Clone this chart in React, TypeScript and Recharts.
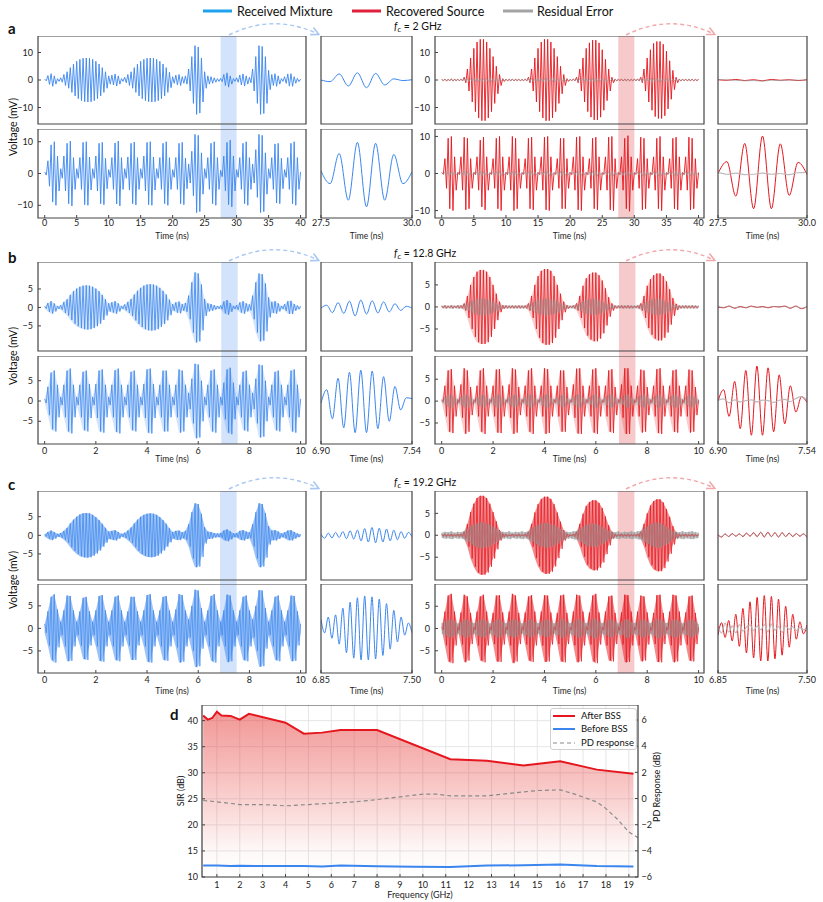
import React from 'react';
import { ComposedChart, Line, Area, XAxis, YAxis, ReferenceArea, CartesianGrid } from 'recharts';

const FONT = 'Lato, "Open Sans", "DejaVu Sans", sans-serif';
const BLUE = '#3b86ee';
const RED = '#e5161d';
const GRAY = '#9a9a9a';
const HL_BLUE = '#d3e3fb';
const HL_RED = '#f6c9cb';

// ---------------- Panel a (fc = 2 GHz), one amplitude per carrier cycle (0.5 ns), 0..40 ns
const aStep = 0.5;
const aBlueTop = [
  0.3, 1.6, 2.3, 1.5, 0.5, 0.8, 2.0, 3.0, 4.5, 5.8,
  6.8, 7.5, 7.9, 8.0, 7.9, 7.5, 6.8, 5.8, 4.5, 3.0,
  1.5, 1.8, 2.2, 1.5, 0.5, 1.0, 2.0, 3.0, 4.5, 5.8,
  6.8, 7.5, 7.9, 8.0, 7.9, 7.5, 6.8, 5.8, 4.5, 2.8,
  1.2, 1.8, 2.0, 1.2, 1.5, 4.0, 8.5, 12.5, 12.0, 8.0,
  3.0, 1.5, 1.2, 0.8, 0.5, 0.6, 2.0, 2.6, 1.5, 0.5,
  0.8, 1.8, 2.2, 1.5, 1.0, 4.0, 8.5, 12.5, 12.2, 8.5,
  3.5, 2.0, 2.3, 1.5, 0.5, 1.2, 2.2, 2.3, 1.2, 0.6,
  0.3,
];
const aBlueBot = [
  0.5, 4.0, 9.0, 10.0, 5.5, 1.5, 5.5, 9.5, 10.2, 5.0,
  1.5, 5.0, 9.8, 10.0, 5.2, 1.5, 5.5, 9.5, 9.8, 4.8,
  1.2, 5.0, 9.6, 10.2, 5.0, 1.5, 5.2, 9.5, 9.9, 5.0,
  1.5, 5.5, 9.8, 10.0, 5.2, 1.5, 5.0, 9.5, 10.0, 5.0,
  1.2, 5.0, 9.5, 9.8, 4.8, 3.0, 7.0, 12.3, 12.0, 6.5,
  1.5, 5.0, 9.5, 10.0, 5.0, 1.0, 5.5, 9.8, 10.5, 5.5,
  1.2, 5.0, 9.5, 10.0, 5.0, 3.0, 7.5, 12.3, 12.0, 6.5,
  1.5, 5.0, 9.3, 9.5, 4.8, 1.2, 5.0, 9.5, 10.0, 5.0,
  0.5,
];
const aRedTop = [
  0.2, 0.3, 0.2, 0.3, 0.2, 0.3, 0.3, 1.0, 4.0, 8.0,
  11.5, 13.8, 14.8, 14.8, 13.8, 11.5, 8.5, 5.0, 2.0, 0.5,
  0.3, 0.2, 0.3, 0.2, 0.3, 0.2, 0.3, 1.0, 4.0, 8.0,
  11.5, 13.8, 14.8, 14.8, 13.8, 11.5, 8.5, 5.0, 2.0, 0.5,
  0.2, 0.3, 1.0, 4.0, 8.0, 11.5, 13.5, 14.5, 14.5, 13.5,
  11.0, 7.5, 4.0, 1.0, 0.3, 0.2, 0.3, 0.2, 0.3, 0.2,
  0.2, 0.3, 1.0, 4.0, 8.0, 11.0, 13.3, 14.0, 14.0, 13.0,
  10.5, 7.0, 3.5, 1.0, 0.3, 0.2, 0.3, 0.2, 0.3, 0.2,
  0.2,
];
const aRedBot = [
  0.2, 4.0, 9.5, 10.0, 4.5, 0.3, 4.5, 9.8, 9.5, 4.0,
  0.3, 4.5, 9.0, 9.8, 4.5, 0.2, 4.0, 9.5, 10.0, 4.5,
  0.3, 4.5, 10.0, 9.5, 4.0, 0.2, 4.0, 9.5, 9.8, 4.5,
  0.3, 4.5, 9.8, 10.0, 4.5, 0.2, 4.0, 9.5, 9.5, 4.0,
  0.3, 4.5, 9.8, 10.0, 4.5, 0.3, 4.0, 9.5, 9.8, 4.5,
  0.2, 4.5, 9.8, 10.0, 4.0, 0.3, 4.5, 9.5, 10.2, 4.5,
  0.2, 4.0, 9.8, 9.5, 4.0, 0.3, 4.5, 9.5, 10.0, 4.5,
  0.2, 4.0, 9.5, 9.8, 4.5, 0.3, 4.5, 9.8, 9.5, 4.0,
  0.2,
];
const aGrayTop = [
  0.3, 0.4, 0.3, 0.5, 0.4, 0.3, 0.4, 0.5, 0.6, 0.5,
  0.6, 0.7, 0.6, 0.5, 0.6, 0.7, 0.5, 0.6, 0.4, 0.3,
  0.3, 0.4, 0.3, 0.4, 0.3, 0.3, 0.4, 0.5, 0.6, 0.5,
  0.6, 0.7, 0.6, 0.6, 0.7, 0.6, 0.5, 0.5, 0.4, 0.3,
  0.3, 0.4, 0.5, 0.5, 0.6, 0.7, 0.6, 0.7, 0.6, 0.5,
  0.5, 0.4, 0.3, 0.3, 0.4, 0.3, 0.3, 0.4, 0.3, 0.4,
  0.3, 0.4, 0.5, 0.6, 0.6, 0.7, 0.6, 0.6, 0.7, 0.5,
  0.5, 0.4, 0.3, 0.3, 0.4, 0.3, 0.3, 0.4, 0.3, 0.3,
  0.3,
];
const aGrayBot = [
  0.3, 0.4, 0.5, 0.5, 0.4, 0.3, 0.4, 0.6, 0.5, 0.3,
  0.3, 0.5, 0.6, 0.5, 0.4, 0.3, 0.4, 0.5, 0.6, 0.4,
  0.3, 0.5, 0.6, 0.5, 0.3, 0.3, 0.4, 0.6, 0.5, 0.4,
  0.3, 0.4, 0.5, 0.6, 0.4, 0.3, 0.5, 0.6, 0.5, 0.3,
  0.3, 0.4, 0.6, 0.5, 0.4, 0.4, 0.5, 0.7, 0.6, 0.4,
  0.3, 0.4, 0.5, 0.6, 0.4, 0.3, 0.5, 0.6, 0.5, 0.3,
  0.3, 0.4, 0.6, 0.5, 0.4, 0.4, 0.5, 0.7, 0.6, 0.4,
  0.3, 0.4, 0.5, 0.6, 0.4, 0.3, 0.5, 0.6, 0.5, 0.3,
  0.3,
];
// zoom 27.5 .. 30.0 ns, extrema every 0.25 ns
const aZoomStart = 27.5;
const aZoomStep = 0.25;
const aBlueTopZoom = [0.0, -0.6, 2.2, -2.2, 2.6, -2.8, 2.4, -1.8, 0.4, -0.2, 0.1];
const aBlueBotZoom = [0.8, -3.2, 6.3, -8.4, 9.8, -10.5, 9.5, -8.4, 6.0, -3.2, 0.5];
const aRedTopZoom = [0.1, -0.1, 0.2, -0.2, 0.1, -0.3, 0.2, -0.1, 0.1, -0.2, 0.1];
const aGrayTopZoom = [0.2, 0.0, -0.1, -0.3, -0.2, -0.4, -0.1, -0.2, 0.0, -0.1, 0.1];
const aRedBotZoom = [0.0, 3.2, -6.1, 8.1, -9.5, 10.1, -9.5, 8.0, -5.9, 3.0, -0.3];
const aGrayBotZoom = [0.3, -0.2, 0.1, -0.3, -0.2, 0.1, -0.2, 0.0, -0.3, 0.2, 0.3];

// ---------------- Panel b (fc = 12.8 GHz), 0..10 ns, 0.125 ns per drawn cycle
const bStep = 0.125;
const bBlueTop = [
  0.3, 1.2, 1.7, 1.1, 0.4, 0.6, 1.5, 2.2, 3.4, 4.4,
  5.1, 5.6, 5.9, 6.0, 5.9, 5.6, 5.1, 4.4, 3.4, 2.2,
  1.1, 1.4, 1.7, 1.1, 0.4, 0.8, 1.5, 2.3, 3.5, 4.5,
  5.3, 5.9, 6.2, 6.3, 6.2, 5.9, 5.3, 4.5, 3.5, 2.1,
  0.9, 1.4, 1.6, 0.9, 1.2, 3.2, 6.8, 9.5, 9.2, 6.2,
  2.3, 1.1, 0.9, 0.6, 0.4, 0.5, 1.6, 2.0, 1.2, 0.4,
  0.6, 1.4, 1.7, 1.1, 0.8, 3.2, 6.8, 9.2, 9.0, 6.5,
  2.7, 1.5, 1.7, 1.1, 0.4, 0.9, 1.7, 1.8, 0.9, 0.5,
  0.3,
];
const bBlueBot = [
  0.5, 3.5, 7.0, 7.5, 4.0, 1.0, 4.0, 7.5, 8.0, 4.0,
  1.0, 4.0, 7.2, 7.5, 4.2, 1.0, 4.2, 7.5, 7.8, 4.0,
  1.0, 4.0, 7.6, 8.0, 4.0, 1.0, 4.0, 7.2, 7.5, 4.0,
  1.0, 4.2, 7.8, 8.0, 4.2, 1.0, 4.0, 7.5, 7.5, 4.0,
  1.0, 4.0, 7.8, 7.5, 4.0, 2.0, 5.5, 9.2, 9.0, 5.0,
  1.0, 4.0, 7.5, 7.8, 4.0, 1.0, 4.5, 7.8, 8.2, 4.5,
  1.0, 4.0, 7.2, 7.5, 4.0, 2.0, 5.5, 9.0, 8.8, 5.0,
  1.0, 4.0, 7.2, 7.5, 4.0, 1.0, 4.0, 7.5, 7.8, 4.0,
  0.5,
];
const bRedTop = [
  0.2, 0.3, 0.2, 0.3, 0.2, 0.3, 0.3, 0.8, 2.5, 5.0,
  6.8, 8.0, 8.4, 8.4, 8.0, 6.8, 5.0, 3.0, 1.2, 0.4,
  0.3, 0.2, 0.3, 0.2, 0.3, 0.2, 0.3, 0.8, 2.5, 5.0,
  7.0, 8.2, 8.6, 8.6, 8.2, 7.0, 5.0, 3.0, 1.2, 0.4,
  0.2, 0.3, 0.8, 2.5, 4.8, 6.5, 7.4, 7.8, 7.8, 7.2,
  6.0, 4.2, 2.2, 0.8, 0.3, 0.2, 0.3, 0.2, 0.3, 0.2,
  0.2, 0.3, 0.8, 2.5, 4.8, 6.3, 7.2, 7.6, 7.6, 7.0,
  5.8, 4.0, 2.0, 0.7, 0.3, 0.2, 0.3, 0.2, 0.3, 0.2,
  0.2,
];
const bRedBot = [
  0.2, 3.5, 7.0, 7.3, 3.5, 0.3, 3.8, 7.5, 7.0, 3.2,
  0.2, 3.5, 7.0, 7.5, 3.5, 0.3, 3.5, 7.2, 7.3, 3.5,
  0.2, 3.8, 7.5, 7.2, 3.2, 0.3, 3.5, 7.0, 7.5, 3.5,
  0.2, 3.5, 7.5, 7.3, 3.5, 0.3, 3.5, 7.0, 7.0, 3.2,
  0.2, 3.8, 7.4, 7.5, 3.5, 0.3, 3.5, 7.2, 7.5, 3.5,
  0.2, 3.5, 7.0, 7.3, 3.2, 0.3, 3.8, 7.5, 7.5, 3.5,
  0.2, 3.5, 7.2, 7.0, 3.2, 0.3, 3.5, 7.3, 7.5, 3.5,
  0.2, 3.5, 7.0, 7.2, 3.5, 0.3, 3.5, 7.2, 7.0, 3.2,
  0.2,
];
const bGrayTop = [
  0.3, 0.4, 0.3, 0.4, 0.3, 0.4, 0.3, 0.5, 0.9, 1.3,
  1.6, 1.8, 1.9, 1.9, 1.8, 1.6, 1.3, 0.9, 0.5, 0.4,
  0.3, 0.4, 0.3, 0.4, 0.3, 0.4, 0.3, 0.5, 0.9, 1.3,
  1.6, 1.8, 1.9, 1.9, 1.8, 1.6, 1.3, 0.9, 0.5, 0.4,
  0.3, 0.4, 0.5, 0.9, 1.3, 1.6, 1.8, 1.9, 1.8, 1.6,
  1.3, 0.9, 0.6, 0.4, 0.3, 0.4, 0.3, 0.4, 0.3, 0.4,
  0.3, 0.4, 0.5, 0.9, 1.3, 1.6, 1.8, 1.9, 1.8, 1.6,
  1.3, 0.9, 0.6, 0.4, 0.3, 0.4, 0.3, 0.4, 0.3, 0.4,
  0.3,
];
const bGrayBot = [
  0.4, 0.9, 1.4, 1.5, 0.9, 0.5, 1.0, 1.5, 1.4, 0.8,
  0.4, 0.9, 1.3, 1.5, 0.9, 0.5, 1.0, 1.5, 1.5, 0.8,
  0.4, 0.9, 1.4, 1.4, 0.9, 0.5, 0.9, 1.5, 1.5, 0.8,
  0.4, 1.0, 1.4, 1.5, 0.9, 0.5, 0.9, 1.3, 1.4, 0.8,
  0.4, 1.0, 1.5, 1.5, 0.9, 0.5, 0.9, 1.4, 1.5, 0.8,
  0.4, 1.0, 1.5, 1.4, 0.9, 0.5, 0.9, 1.4, 1.5, 0.8,
  0.4, 1.0, 1.3, 1.5, 0.9, 0.5, 0.9, 1.5, 1.4, 0.8,
  0.4, 1.0, 1.4, 1.5, 0.9, 0.5, 0.9, 1.4, 1.4, 0.8,
  0.4,
];
const bZoomStart = 6.9;
const bZoomStep = 0.04;
const bBlueTopZoom = [-0.2, 0.6, -1.4, 1.3, -1.6, 1.7, -2.3, 2.0, -1.8, 1.8, -1.5, 1.5, -1.2, 1.0, -0.8, 0.3, -0.2];
const bBlueBotZoom = [-0.5, 2.8, -4.4, 5.6, -6.6, 7.1, -7.8, 7.6, -7.8, 7.4, -6.8, 6.0, -5.0, 3.6, -2.2, 0.8, 0.6];
const bRedTopZoom = [0.0, -0.2, 0.2, -0.3, 0.1, -0.2, 0.2, -0.1, 0.1, -0.2, 0.1, 0.0, 0.2, -0.3, 0.2, -0.4, 0.1];
const bGrayTopZoom = [0.1, -0.1, 0.1, -0.2, 0.0, -0.1, 0.1, -0.1, 0.0, -0.1, 0.1, 0.0, 0.1, -0.2, 0.1, -0.3, 0.0];
const bRedBotZoom = [0.0, 2.6, -3.5, 4.5, -6.3, 7.0, -7.8, 8.0, -7.8, 7.6, -7.0, 6.0, -5.2, 3.5, -2.5, 1.0, -0.3];
const bGrayBotZoom = [0.2, 0.5, -0.4, 0.3, -0.2, 0.1, 0.3, -0.2, 0.2, 0.1, -0.3, 0.2, 0.4, -0.1, 0.6, 1.0, 0.2];

// ---------------- Panel c (fc = 19.2 GHz)
const cStep = 0.125;
const cBlueTop = [
  0.3, 0.9, 1.3, 0.9, 0.4, 0.6, 1.2, 2.0, 3.2, 4.2,
  5.0, 5.6, 5.9, 6.0, 5.9, 5.5, 4.9, 4.1, 3.1, 2.0,
  1.0, 1.2, 1.4, 0.9, 0.4, 0.7, 1.3, 2.1, 3.2, 4.2,
  5.0, 5.5, 5.8, 5.9, 5.8, 5.5, 4.9, 4.1, 3.1, 1.9,
  0.9, 1.2, 1.3, 0.8, 1.2, 3.0, 6.2, 8.6, 8.4, 5.8,
  2.2, 1.0, 0.9, 0.6, 0.5, 0.6, 1.3, 1.6, 1.1, 0.5,
  0.6, 1.2, 1.4, 1.0, 0.8, 3.0, 6.2, 8.6, 8.4, 6.0,
  2.5, 1.3, 1.4, 1.0, 0.5, 0.8, 1.3, 1.4, 0.9, 0.5,
  0.3,
];
const cBlueBot = [
  1.0, 3.8, 7.0, 7.6, 4.2, 1.5, 4.0, 7.3, 7.2, 4.0,
  1.5, 3.8, 6.8, 7.0, 3.8, 1.5, 4.0, 7.2, 7.4, 4.0,
  1.5, 4.0, 7.0, 7.3, 4.0, 1.5, 3.8, 7.0, 7.0, 3.8,
  1.5, 4.0, 7.4, 7.6, 4.0, 1.5, 4.0, 7.0, 7.2, 4.0,
  1.5, 4.2, 7.6, 7.4, 4.0, 2.0, 5.0, 8.6, 8.4, 4.5,
  1.5, 4.0, 7.2, 7.6, 4.0, 1.5, 4.0, 7.5, 7.3, 4.0,
  1.5, 4.0, 7.0, 7.3, 4.0, 2.0, 5.0, 8.5, 8.4, 4.5,
  1.5, 4.0, 7.0, 7.3, 4.0, 1.5, 4.0, 7.3, 7.2, 3.8,
  1.0,
];
const cRedTop = [
  0.2, 0.3, 0.2, 0.3, 0.2, 0.3, 0.3, 0.8, 2.6, 5.3,
  7.2, 8.5, 9.0, 9.0, 8.5, 7.2, 5.3, 3.2, 1.2, 0.4,
  0.3, 0.2, 0.3, 0.2, 0.3, 0.2, 0.3, 0.8, 2.6, 5.2,
  7.1, 8.3, 8.8, 8.8, 8.3, 7.1, 5.2, 3.1, 1.2, 0.4,
  0.2, 0.3, 0.8, 2.6, 4.9, 6.7, 7.6, 8.0, 8.0, 7.4,
  6.2, 4.3, 2.3, 0.8, 0.3, 0.2, 0.3, 0.2, 0.3, 0.2,
  0.2, 0.3, 0.8, 2.6, 5.0, 6.8, 7.8, 8.2, 8.2, 7.5,
  6.0, 4.2, 2.1, 0.7, 0.3, 0.2, 0.3, 0.2, 0.3, 0.2,
  0.2,
];
const cRedBot = [
  0.3, 3.8, 7.4, 7.8, 3.8, 0.4, 3.6, 7.6, 7.2, 3.5,
  0.3, 3.8, 7.2, 7.6, 3.8, 0.4, 3.5, 7.4, 7.5, 3.6,
  0.3, 3.8, 7.8, 7.4, 3.5, 0.4, 3.6, 7.2, 7.5, 3.8,
  0.3, 3.8, 7.5, 7.4, 3.6, 0.4, 3.5, 7.4, 7.6, 3.5,
  0.3, 3.8, 7.6, 7.4, 3.8, 0.4, 3.6, 7.4, 7.8, 3.6,
  0.3, 3.8, 7.2, 7.4, 3.5, 0.4, 3.6, 7.6, 7.5, 3.8,
  0.3, 3.8, 7.4, 7.2, 3.6, 0.4, 3.5, 7.5, 7.6, 3.5,
  0.3, 3.8, 7.6, 7.4, 3.8, 0.4, 3.6, 7.2, 7.4, 3.5,
  0.3,
];
const cGrayTop = [
  0.6, 0.8, 0.7, 0.9, 0.6, 0.8, 0.7, 1.0, 1.5, 2.1,
  2.5, 2.8, 2.9, 2.9, 2.7, 2.4, 2.0, 1.5, 1.0, 0.8,
  0.7, 0.9, 0.6, 0.8, 0.7, 0.9, 0.7, 1.0, 1.5, 2.0,
  2.4, 2.7, 2.8, 2.8, 2.6, 2.3, 1.9, 1.4, 1.0, 0.8,
  0.7, 0.9, 1.0, 1.5, 2.0, 2.4, 2.6, 2.7, 2.6, 2.3,
  1.9, 1.4, 1.0, 0.8, 0.7, 0.9, 0.6, 0.8, 0.7, 0.9,
  0.7, 0.9, 1.0, 1.5, 2.0, 2.5, 2.8, 2.9, 2.8, 2.4,
  2.0, 1.4, 1.0, 0.8, 0.7, 0.9, 0.7, 0.8, 0.9, 0.7,
  0.6,
];
const cGrayBot = [
  1.2, 1.6, 2.0, 2.0, 1.6, 1.1, 1.5, 2.1, 1.9, 1.5,
  1.2, 1.6, 1.9, 2.1, 1.6, 1.1, 1.5, 2.0, 2.0, 1.5,
  1.2, 1.7, 2.1, 1.9, 1.6, 1.1, 1.5, 2.0, 2.0, 1.5,
  1.2, 1.6, 1.9, 2.0, 1.6, 1.1, 1.5, 2.1, 2.0, 1.5,
  1.2, 1.6, 2.0, 2.1, 1.6, 1.2, 1.7, 2.2, 2.1, 1.6,
  1.2, 1.6, 2.0, 1.9, 1.6, 1.1, 1.5, 2.0, 2.1, 1.5,
  1.2, 1.6, 1.9, 2.0, 1.6, 1.2, 1.7, 2.2, 2.0, 1.6,
  1.2, 1.6, 2.0, 2.0, 1.6, 1.1, 1.5, 1.9, 2.0, 1.5,
  1.0,
];
const cZoomStart = 6.85;
const cZoomStep = 0.026;
const cBlueTopZoom = [0.3, -0.8, 0.6, -0.7, 0.8, -0.6, 1.0, -0.9, 1.2, -1.0, 1.4, -1.5, 1.8, -1.8, 2.1, -2.0, 1.9, -1.8, 1.7, -1.5, 1.4, -1.2, 1.0, -0.8, 0.8, -0.4];
const cBlueBotZoom = [2.0, -1.0, 2.5, -2.2, 3.0, -3.5, 4.5, -5.4, 5.8, -6.6, 6.8, -7.0, 7.2, -7.0, 7.0, -6.8, 6.5, -6.0, 5.5, -4.6, 4.0, -3.0, 2.5, -1.5, 1.2, -1.0];
const cRedTopZoom = [0.1, -0.4, 0.3, -0.3, 0.4, -0.2, 0.3, -0.3, 0.5, -0.2, 0.6, -0.3, 0.7, -0.4, 0.7, -0.3, 0.6, -0.4, 0.6, -0.3, 0.5, -0.3, 0.4, -0.2, 0.3, -0.5];
const cGrayTopZoom = [0.1, -0.3, 0.3, -0.3, 0.3, -0.2, 0.3, -0.2, 0.4, -0.2, 0.5, -0.3, 0.6, -0.3, 0.6, -0.3, 0.5, -0.3, 0.5, -0.3, 0.4, -0.2, 0.4, -0.2, 0.3, -0.4];
const cRedBotZoom = [-1.5, 1.3, -2.0, 1.8, -2.8, 3.2, -4.0, 4.5, -5.5, 6.0, -6.6, 7.0, -7.3, 7.4, -7.3, 7.2, -6.8, 6.6, -6.0, 5.0, -4.2, 3.2, -2.4, 1.5, -1.2, 0.8];
const cGrayBotZoom = [0.5, -1.0, 1.2, -0.8, 0.6, -1.0, 0.9, -0.6, 0.3, 0.8, -0.5, 0.6, -0.3, 0.9, -0.7, 1.0, -0.4, 0.5, -0.9, 0.6, -0.2, 0.4, -0.5, 0.2, -0.3, 0.1];

// ---------------- Panel d
const dFreq = [0.4, 0.6, 0.8, 1.0, 1.2, 1.6, 2.0, 2.4, 4.0, 4.8, 5.6, 6.4, 8.0, 11.2, 12.8, 14.4, 16.0, 17.6, 19.2];
const dAfter = [41.0, 40.2, 40.5, 41.7, 41.0, 40.9, 40.2, 41.3, 39.6, 37.5, 37.7, 38.2, 38.2, 32.6, 32.3, 31.4, 32.2, 30.6, 29.8];
const dBeforeFreq = [0.4, 1.0, 1.6, 2.0, 3.2, 4.0, 4.8, 5.6, 6.4, 8.0, 9.6, 11.2, 12.8, 14.4, 16.0, 17.6, 19.2];
const dBefore = [12.2, 12.2, 12.1, 12.15, 12.1, 12.1, 12.1, 12.0, 12.2, 12.05, 11.95, 11.9, 12.2, 12.25, 12.4, 12.1, 12.0];
const dPdFreq = [0.4, 1.0, 2.0, 3.0, 4.0, 5.0, 6.0, 7.0, 8.0, 9.0, 10.0, 10.6, 11.2, 12.8, 14.0, 15.0, 16.0, 16.6, 17.6, 18.0, 18.5, 19.0, 19.4];
const dPd = [-0.15, -0.25, -0.46, -0.46, -0.56, -0.46, -0.36, -0.26, -0.08, 0.13, 0.33, 0.33, 0.2, 0.2, 0.43, 0.61, 0.66, 0.36, -0.26, -0.77, -1.58, -2.55, -3.0];
const dXTicks = [1, 2, 3, 4, 5, 6, 7, 8, 9, 10, 11, 12, 13, 14, 15, 16, 17, 18, 19];
const dLeftTicks = [10, 15, 20, 25, 30, 35, 40];
const dRightTicks = [-6, -4, -2, 0, 2, 4, 6];

// ---------------- helpers
type Pt = { t: number; v: number };
function zigzag(env: number[], dt: number): Pt[] {
  const out: Pt[] = [];
  env.forEach((e, i) => {
    out.push({ t: i * dt, v: e });
    if (i < env.length - 1) out.push({ t: i * dt + dt / 2, v: -e });
  });
  return out;
}
function bandOf(env: number[], dt: number) {
  return env.map((e, i) => ({ t: i * dt, r: [-e, e] }));
}
function seq(vals: number[], t0: number, dt: number): Pt[] {
  return vals.map((v, i) => ({ t: t0 + i * dt, v }));
}
const fmtMinus = (v: number) => (v < 0 ? '\u2212' + Math.abs(v) : String(v));

interface Series { data: any[]; color: string; width: number; opacity?: number; curve?: 'linear' | 'monotone' }
interface BandS { data: any[]; color: string; opacity: number }
interface PanelProps {
  left: number; top: number; w: number; h: number; gapBelow: number; bottomRow: boolean;
  xDomain: [number, number]; xTicks: number[]; xFmt?: (v: number) => string;
  yDomain: [number, number]; yTicks: number[]; showY: boolean;
  tickMargin: number; timeOffset: number;
  lines: Series[]; bands: BandS[];
  hl?: { x1: number; x2: number; color: string };
}

const tickStyle = { fontSize: 9, fill: '#222', fontFamily: FONT };

function Panel(p: PanelProps) {
  const LW = 34;
  const RM = 14;
  const BH = p.bottomRow ? 26 : p.gapBelow;
  const W = p.w + LW + RM;
  const H = p.h + BH;
  const ext = p.bottomRow ? 0 : (p.gapBelow * (p.yDomain[1] - p.yDomain[0])) / p.h;
  return (
    <div style={{ position: 'absolute', left: p.left - LW, top: p.top, width: W, height: H }}>
      <ComposedChart width={W} height={H} margin={{ top: 0, right: RM, bottom: 0, left: 0 }}>
        <XAxis
          type="number" dataKey="t" domain={p.xDomain} ticks={p.xTicks} allowDataOverflow interval={0}
          height={BH} axisLine={false} tickSize={-3} tickMargin={p.tickMargin} stroke="#444"
          tick={p.bottomRow ? tickStyle : false} tickFormatter={p.xFmt}
          label={p.bottomRow ? { value: 'Time (ns)', position: 'insideBottom', offset: p.timeOffset, fontSize: 8.5, fill: '#222', fontFamily: FONT } : undefined}
        />
        <YAxis
          type="number" domain={p.yDomain} ticks={p.yTicks} allowDataOverflow interval={0}
          width={LW} axisLine={false} tickSize={-3} tickMargin={8} stroke="#444"
          tick={p.showY ? tickStyle : false} tickFormatter={fmtMinus}
        />
        {p.hl && (
          <ReferenceArea
            x1={p.hl.x1} x2={p.hl.x2} y1={p.yDomain[0] - ext} y2={p.yDomain[1]}
            fill={p.hl.color} fillOpacity={1} stroke="none" ifOverflow="visible" zIndex={-50}
          />
        )}
        {p.bands.map((b, i) => (
          <Area key={'b' + i} data={b.data} dataKey="r" type="linear" stroke="none" fill={b.color}
            fillOpacity={b.opacity} isAnimationActive={false} dot={false} activeDot={false} />
        ))}
        {p.lines.map((l, i) => (
          <Line key={'l' + i} data={l.data} dataKey="v" type={l.curve || 'linear'} stroke={l.color}
            strokeWidth={l.width} strokeOpacity={l.opacity ?? 1} dot={false} activeDot={false}
            isAnimationActive={false} />
        ))}
        <ReferenceArea x1={p.xDomain[0]} x2={p.xDomain[1]} y1={p.yDomain[0]} y2={p.yDomain[1]}
          fill="none" stroke="#444" strokeWidth={1.2} ifOverflow="visible" zIndex={700} />
      </ComposedChart>
    </div>
  );
}

interface RowDef {
  topY: number; topH: number; botY: number; botH: number;
  step: number; wideDomain: [number, number]; wideTicks: number[];
  zoomStart: number; zoomStep: number; zoomDomain: [number, number]; zoomFmt: (v: number) => string;
  yTicks: number[];
  yBlueTop: [number, number]; yBlueBot: [number, number]; yRedTop: [number, number]; yRedBot: [number, number];
  blueTop: number[]; blueBot: number[]; redTop: number[]; redBot: number[]; grayTop: number[]; grayBot: number[];
  zBlueTop: number[]; zBlueBot: number[]; zRedTop: number[]; zGrayTop: number[]; zRedBot: number[]; zGrayBot: number[];
  bandOp: number; grayBandOp: number; lw: number;
  tickMargin: number; timeOffset: number;
}

const COLS = { blueWide: [38, 268], blueZoom: [321, 91], redWide: [435, 269], redZoom: [718, 89] };

function Row({ r }: { r: RowDef }) {
  const gapTop = r.botY - (r.topY + r.topH);
  const hlB = { x1: r.zoomDomain[0], x2: r.zoomDomain[1], color: HL_BLUE };
  const hlR = { x1: r.zoomDomain[0], x2: r.zoomDomain[1], color: HL_RED };
  const common = { tickMargin: r.tickMargin, timeOffset: r.timeOffset };
  const wide = (col: number[], top: boolean, yd: [number, number], lines: Series[], bands: BandS[], hl: any) => (
    <Panel left={col[0]} w={col[1]} top={top ? r.topY : r.botY} h={top ? r.topH : r.botH} gapBelow={gapTop}
      bottomRow={!top} xDomain={r.wideDomain} xTicks={r.wideTicks} yDomain={yd} yTicks={r.yTicks} showY
      lines={lines} bands={bands} hl={hl} {...common} />
  );
  const zoom = (col: number[], top: boolean, yd: [number, number], lines: Series[]) => (
    <Panel left={col[0]} w={col[1]} top={top ? r.topY : r.botY} h={top ? r.topH : r.botH} gapBelow={gapTop}
      bottomRow={!top} xDomain={r.zoomDomain} xTicks={r.zoomDomain} xFmt={r.zoomFmt} yDomain={yd} yTicks={r.yTicks}
      showY={false} lines={lines} bands={[]} {...common} />
  );
  const zz = (env: number[]) => zigzag(env, r.step);
  const bd = (env: number[], c: string, op: number) => (op > 0 ? [{ data: bandOf(env, r.step), color: c, opacity: op }] : []);
  const zs = (vals: number[]) => seq(vals, r.zoomStart, r.zoomStep);
  return (
    <>
      {wide(COLS.blueWide, true, r.yBlueTop, [{ data: zz(r.blueTop), color: BLUE, width: r.lw }], bd(r.blueTop, BLUE, r.bandOp), hlB)}
      {wide(COLS.blueWide, false, r.yBlueBot, [{ data: zz(r.blueBot), color: BLUE, width: r.lw }], bd(r.blueBot, BLUE, r.bandOp), hlB)}
      {zoom(COLS.blueZoom, true, r.yBlueTop, [{ data: zs(r.zBlueTop), color: BLUE, width: 1, curve: 'monotone' }])}
      {zoom(COLS.blueZoom, false, r.yBlueBot, [{ data: zs(r.zBlueBot), color: BLUE, width: 1, curve: 'monotone' }])}
      {wide(COLS.redWide, true, r.yRedTop, [
        { data: zz(r.redTop), color: RED, width: r.lw },
        { data: zz(r.grayTop), color: GRAY, width: r.lw, opacity: 0.75 },
      ], [...bd(r.redTop, RED, r.bandOp), ...bd(r.grayTop, GRAY, r.grayBandOp)], hlR)}
      {wide(COLS.redWide, false, r.yRedBot, [
        { data: zz(r.redBot), color: RED, width: r.lw },
        { data: zz(r.grayBot), color: GRAY, width: r.lw, opacity: 0.75 },
      ], [...bd(r.redBot, RED, r.bandOp), ...bd(r.grayBot, GRAY, r.grayBandOp)], hlR)}
      {zoom(COLS.redZoom, true, r.yRedTop, [
        { data: zs(r.zRedTop), color: RED, width: 1, curve: 'monotone' },
        { data: zs(r.zGrayTop), color: GRAY, width: 1, opacity: 0.7, curve: 'monotone' },
      ])}
      {zoom(COLS.redZoom, false, r.yRedBot, [
        { data: zs(r.zRedBot), color: RED, width: 1, curve: 'monotone' },
        { data: zs(r.zGrayBot), color: '#b5b5b5', width: 1.2, opacity: 0.9, curve: 'monotone' },
      ])}
    </>
  );
}

const ROW_A: RowDef = {
  topY: 36, topH: 88, botY: 129, botH: 89, step: aStep, wideDomain: [-1.05, 40.85], wideTicks: [0, 5, 10, 15, 20, 25, 30, 35, 40],
  zoomStart: aZoomStart, zoomStep: aZoomStep, zoomDomain: [27.5, 30], zoomFmt: (v) => v.toFixed(1), yTicks: [-10, 0, 10],
  yBlueTop: [-16, 16], yBlueBot: [-14, 14], yRedTop: [-16, 16], yRedBot: [-12, 12],
  blueTop: aBlueTop, blueBot: aBlueBot, redTop: aRedTop, redBot: aRedBot, grayTop: aGrayTop, grayBot: aGrayBot,
  zBlueTop: aBlueTopZoom, zBlueBot: aBlueBotZoom, zRedTop: aRedTopZoom, zGrayTop: aGrayTopZoom, zRedBot: aRedBotZoom, zGrayBot: aGrayBotZoom,
  bandOp: 0, grayBandOp: 0, lw: 0.9, tickMargin: 4.8, timeOffset: 4.6,
};
const ROW_B: RowDef = {
  topY: 262, topH: 89, botY: 356, botH: 88, step: bStep, wideDomain: [-0.26, 10.21], wideTicks: [0, 2, 4, 6, 8, 10],
  zoomStart: bZoomStart, zoomStep: bZoomStep, zoomDomain: [6.9, 7.54], zoomFmt: (v) => v.toFixed(2), yTicks: [-5, 0, 5],
  yBlueTop: [-11.8, 12.3], yBlueBot: [-10.6, 11.1], yRedTop: [-10, 10.2], yRedBot: [-9.8, 10.3],
  blueTop: bBlueTop, blueBot: bBlueBot, redTop: bRedTop, redBot: bRedBot, grayTop: bGrayTop, grayBot: bGrayBot,
  zBlueTop: bBlueTopZoom, zBlueBot: bBlueBotZoom, zRedTop: bRedTopZoom, zGrayTop: bGrayTopZoom, zRedBot: bRedBotZoom, zGrayBot: bGrayBotZoom,
  bandOp: 0.22, grayBandOp: 0.35, lw: 0.8, tickMargin: 6.5, timeOffset: 7.6,
};
const ROW_C: RowDef = {
  topY: 491, topH: 89, botY: 584, botH: 89, step: cStep, wideDomain: [-0.26, 10.21], wideTicks: [0, 2, 4, 6, 8, 10],
  zoomStart: cZoomStart, zoomStep: cZoomStep, zoomDomain: [6.85, 7.5], zoomFmt: (v) => v.toFixed(2), yTicks: [-5, 0, 5],
  yBlueTop: [-12, 11.9], yBlueBot: [-9.9, 9.85], yRedTop: [-10.2, 10.1], yRedBot: [-10, 10],
  blueTop: cBlueTop, blueBot: cBlueBot, redTop: cRedTop, redBot: cRedBot, grayTop: cGrayTop, grayBot: cGrayBot,
  zBlueTop: cBlueTopZoom, zBlueBot: cBlueBotZoom, zRedTop: cRedTopZoom, zGrayTop: cGrayTopZoom, zRedBot: cRedBotZoom, zGrayBot: cGrayBotZoom,
  bandOp: 0.5, grayBandOp: 0.6, lw: 0.7, tickMargin: 6.5, timeOffset: 4.6,
};

function PanelD() {
  const LW = 30, RW = 30, BH = 24;
  const plotW = 436, plotH = 172;
  const W = plotW + LW + RW, H = plotH + BH;
  const after = dFreq.map((f, i) => ({ f, v: dAfter[i] }));
  const before = dBeforeFreq.map((f, i) => ({ f, v: dBefore[i] }));
  const pd = dPdFreq.map((f, i) => ({ f, v: dPd[i] }));
  const xd: [number, number] = [0.35, 19.4];
  return (
    <div style={{ position: 'absolute', left: 202 - LW, top: 705, width: W, height: H }}>
      <ComposedChart width={W} height={H} margin={{ top: 0, right: 0, bottom: 0, left: 0 }}>
        <defs>
          <linearGradient id="sirFill" x1="0" y1="0" x2="0" y2="1">
            <stop offset="0%" stopColor="#e53935" stopOpacity={0.52} />
            <stop offset="45%" stopColor="#e53935" stopOpacity={0.28} />
            <stop offset="85%" stopColor="#e53935" stopOpacity={0.03} />
            <stop offset="100%" stopColor="#e53935" stopOpacity={0} />
          </linearGradient>
        </defs>
        <CartesianGrid yAxisId="left" stroke="#e3e3e3" strokeWidth={0.9} />
        <XAxis type="number" dataKey="f" domain={xd} ticks={dXTicks} allowDataOverflow interval={0} height={BH}
          axisLine={false} tickSize={-3} tickMargin={8} stroke="#444" tick={tickStyle}
          label={{ value: 'Frequency (GHz)', position: 'insideBottom', offset: 3, fontSize: 9, fill: '#222', fontFamily: FONT }} />
        <YAxis yAxisId="left" type="number" domain={[10, 43]} ticks={dLeftTicks} allowDataOverflow interval={0} width={LW}
          axisLine={false} tickSize={-3} tickMargin={7} stroke="#444" tick={tickStyle} />
        <YAxis yAxisId="right" orientation="right" type="number" domain={[-6, 7.15]} ticks={dRightTicks} allowDataOverflow
          interval={0} width={RW} axisLine={false} tickSize={-3} tickMargin={6.5} stroke="#444" tick={tickStyle}
          tickFormatter={fmtMinus} />
        <Area yAxisId="left" data={after} dataKey="v" type="linear" stroke={RED} strokeWidth={2} fill="url(#sirFill)"
          fillOpacity={1} isAnimationActive={false} dot={false} activeDot={false} />
        <Line yAxisId="left" data={before} dataKey="v" type="linear" stroke={BLUE} strokeWidth={2} dot={false}
          activeDot={false} isAnimationActive={false} />
        <Line yAxisId="right" data={pd} dataKey="v" type="linear" stroke="#8a8a8a" strokeWidth={1.2} strokeDasharray="4 3"
          dot={false} activeDot={false} isAnimationActive={false} />
        <ReferenceArea yAxisId="left" x1={xd[0]} x2={xd[1]} y1={10} y2={43} fill="none" stroke="#444" strokeWidth={1.2}
          ifOverflow="visible" zIndex={700} />
      </ComposedChart>
    </div>
  );
}

function Overlay() {
  const txt = { fontFamily: FONT, fill: '#111' } as any;
  const arrowB = '#a8c7f4';
  const arrowR = '#f2a7aa';
  const arcs = [
    { y0: 35, c: arrowB, x0: 229, x1: 318, id: 'mB' },
    { y0: 35, c: arrowR, x0: 626, x1: 714, id: 'mR' },
    { y0: 261, c: arrowB, x0: 229, x1: 318, id: 'mB' },
    { y0: 261, c: arrowR, x0: 626, x1: 714, id: 'mR' },
    { y0: 489, c: arrowB, x0: 229, x1: 318, id: 'mB' },
    { y0: 489, c: arrowR, x0: 626, x1: 714, id: 'mR' },
  ];
  const fcs = [
    { y: 30, v: ' = 2 GHz' },
    { y: 257, v: ' = 12.8 GHz' },
    { y: 486, v: ' = 19.2 GHz' },
  ];
  const volts = [127, 356, 580];
  return (
    <svg width={823} height={902} style={{ position: 'absolute', left: 0, top: 0, pointerEvents: 'none' }}>
      <defs>
        <marker id="mB" viewBox="0 0 10 10" refX="8" refY="5" markerWidth="7" markerHeight="7" orient="auto">
          <path d="M1,1 L9,5 L1,9" fill="none" stroke={arrowB} strokeWidth={1.6} />
        </marker>
        <marker id="mR" viewBox="0 0 10 10" refX="8" refY="5" markerWidth="7" markerHeight="7" orient="auto">
          <path d="M1,1 L9,5 L1,9" fill="none" stroke={arrowR} strokeWidth={1.6} />
        </marker>
      </defs>
      {/* top legend */}
      <line x1={203} x2={232} y1={11} y2={11} stroke="#1fa3ec" strokeWidth={3} />
      <text x={237} y={15.5} fontSize={12.5} {...txt}>Received Mixture</text>
      <line x1={352} x2={381} y1={11} y2={11} stroke="#e0203a" strokeWidth={3} />
      <text x={386} y={15.5} fontSize={12.5} {...txt}>Recovered Source</text>
      <line x1={503} x2={533} y1={11} y2={11} stroke="#a3a3a3" strokeWidth={3} />
      <text x={537} y={15.5} fontSize={12.5} {...txt}>Residual Error</text>
      {/* panel letters */}
      <text x={8} y={34} fontSize={15} fontWeight="bold" {...txt}>a</text>
      <text x={8} y={263} fontSize={15} fontWeight="bold" {...txt}>b</text>
      <text x={8} y={490} fontSize={15} fontWeight="bold" {...txt}>c</text>
      <text x={170} y={720} fontSize={15} fontWeight="bold" {...txt}>d</text>
      {fcs.map((f, i) => (
        <text key={'fc' + i} x={394} y={f.y} fontSize={10.5} {...txt}>
          <tspan fontStyle="italic">f</tspan>
          <tspan fontStyle="italic" fontSize={8} dy={2}>c</tspan>
          <tspan dy={-2}>{f.v}</tspan>
        </text>
      ))}
      {volts.map((y, i) => (
        <text key={'v' + i} transform={`translate(17,${y}) rotate(-90)`} textAnchor="middle" fontSize={10.5} {...txt}>Voltage (mV)</text>
      ))}
      {arcs.map((a, i) => (
        <path key={'arc' + i} d={`M${a.x0},${a.y0} Q${(a.x0 + a.x1) / 2},${a.y0 - 22} ${a.x1},${a.y0 - 1}`} fill="none"
          stroke={a.c} strokeWidth={1.4} strokeDasharray="4 3" markerEnd={`url(#${a.id})`} />
      ))}
      <text transform="translate(184,791) rotate(-90)" textAnchor="middle" fontSize={9} {...txt}>SIR (dB)</text>
      <text transform="translate(660,787) rotate(-90)" textAnchor="middle" fontSize={9} {...txt}>PD Response (dB)</text>
    </svg>
  );
}

function LegendD() {
  const row = (color: string, dash: boolean, label: string, w: number) => (
    <div style={{ display: 'flex', alignItems: 'center', height: 13.5, whiteSpace: 'nowrap' }}>
      <svg width={22} height={6} style={{ marginRight: 6, flex: '0 0 auto' }}>
        <line x1={0} x2={22} y1={3} y2={3} stroke={color} strokeWidth={w} strokeDasharray={dash ? '4 3' : undefined} />
      </svg>
      <span style={{ fontSize: 9.5, color: '#111', fontFamily: FONT, lineHeight: '10px', whiteSpace: 'nowrap' }}>{label}</span>
    </div>
  );
  return (
    <div style={{ position: 'absolute', left: 550, top: 708, width: 87, height: 42, border: '1px solid #cfcfcf', borderRadius: 3,
      background: 'rgba(255,255,255,0.85)', padding: '0px 0 0 2px', boxSizing: 'border-box' }}>
      {row(RED, false, 'After BSS', 2)}
      {row(BLUE, false, 'Before BSS', 2)}
      {row('#8a8a8a', true, 'PD response', 1.2)}
    </div>
  );
}

export default function App() {
  return (
    <div style={{ position: 'absolute', left: 0, top: 0, width: 823, height: 902, background: '#fff', fontFamily: FONT }}>
      <Row r={ROW_A} />
      <Row r={ROW_B} />
      <Row r={ROW_C} />
      <PanelD />
      <LegendD />
      <Overlay />
    </div>
  );
}
